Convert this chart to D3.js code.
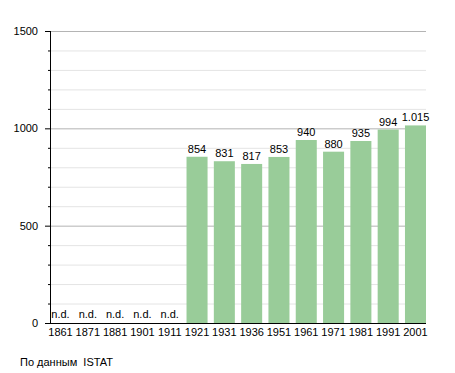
<!DOCTYPE html>
<html>
<head>
<meta charset="utf-8">
<script src="https://cdn.jsdelivr.net/npm/d3@7"></script>
<style>
  body { margin: 0; background: #fff; }
  text { font-family: "Liberation Sans", Arial, sans-serif; font-size: 11px; fill: #000; }
</style>
</head>
<body>
<div id="chart"></div>
<script>
const years = ["1861", "1871", "1881", "1901", "1911", "1921", "1931", "1936", "1951", "1961", "1971", "1981", "1991", "2001"];
const population = [null, null, null, null, null, 854, 831, 817, 853, 940, 880, 935, 994, 1015];
const yTicks = [0, 500, 1000, 1500];
const sourceNote = "По данным  ISTAT";

const width = 455, height = 373;
const margin = {top: 31, right: 29, bottom: 50, left: 50};

const svg = d3.select("#chart").append("svg")
	.attr("width", width)
	.attr("height", height);

const x = d3.scaleBand()
	.domain(years)
	.range([margin.left, width - margin.right])
	.paddingInner(0.23)
	.paddingOuter(0);

const y = d3.scaleLinear()
	.domain([0, 1500])
	.range([height - margin.bottom, margin.top]);

// minor gridlines every 100
svg.append("g")
	.selectAll("line")
	.data(d3.range(100, 1501, 100).filter(v => v % 500 !== 0))
	.join("line")
	.attr("x1", margin.left)
	.attr("x2", width - margin.right)
	.attr("y1", d => y(d) + 0.5)
	.attr("y2", d => y(d) + 0.5)
	.attr("stroke", "#e4e4e4");

// major gridlines
svg.append("g")
	.selectAll("line")
	.data(yTicks.filter(v => v > 0))
	.join("line")
	.attr("x1", margin.left)
	.attr("x2", width - margin.right)
	.attr("y1", d => y(d) + 0.5)
	.attr("y2", d => y(d) + 0.5)
	.attr("stroke", "#b4b4b4");

// bars
svg.append("g")
	.selectAll("rect")
	.data(years.map((yr, i) => ({year: yr, value: population[i]})).filter(d => d.value !== null))
	.join("rect")
	.attr("x", d => x(d.year))
	.attr("width", x.bandwidth())
	.attr("y", d => y(d.value))
	.attr("height", d => y(0) - y(d.value))
	.attr("fill", "#99cc99");

// value labels
const fmt = v => v >= 1000 ? d3.format(",")(v).replace(/,/g, ".") : String(v);
svg.append("g")
	.selectAll("text")
	.data(years.map((yr, i) => ({year: yr, value: population[i]})))
	.join("text")
	.attr("x", d => x(d.year) + x.bandwidth() / 2)
	.attr("y", d => d.value === null ? y(0) - 5 : y(d.value) - 4)
	.attr("text-anchor", "middle")
	.text(d => d.value === null ? "n.d." : fmt(d.value));

// y axis
const yAxis = svg.append("g");
yAxis.append("line")
	.attr("x1", margin.left + 0.5).attr("x2", margin.left + 0.5)
	.attr("y1", y(1500)).attr("y2", y(0))
	.attr("stroke", "#000");
yAxis.selectAll(".minor")
	.data(d3.range(100, 1500, 100).filter(v => v % 500 !== 0))
	.join("line")
	.attr("class", "minor")
	.attr("x1", margin.left - 2).attr("x2", margin.left + 1)
	.attr("y1", d => y(d) + 0.5).attr("y2", d => y(d) + 0.5)
	.attr("stroke", "#000");
yAxis.selectAll(".major")
	.data(yTicks)
	.join("line")
	.attr("class", "major")
	.attr("x1", margin.left - 5).attr("x2", margin.left)
	.attr("y1", d => y(d) + 0.5).attr("y2", d => y(d) + 0.5)
	.attr("stroke", "#000");
yAxis.selectAll("text")
	.data(yTicks)
	.join("text")
	.attr("x", margin.left - 12)
	.attr("y", d => y(d) + 4)
	.attr("text-anchor", "end")
	.text(d => d);

// x baseline + labels
svg.append("line")
	.attr("x1", margin.left).attr("x2", width - margin.right)
	.attr("y1", y(0) + 0.5).attr("y2", y(0) + 0.5)
	.attr("stroke", "#000");

svg.append("g")
	.selectAll("text")
	.data(years)
	.join("text")
	.attr("x", d => x(d) + x.bandwidth() / 2)
	.attr("y", y(0) + 13)
	.attr("text-anchor", "middle")
	.text(d => d);

svg.append("text")
	.attr("x", 20)
	.attr("y", 366)
	.style("white-space", "pre")
	.text(sourceNote);
</script>
</body>
</html>
